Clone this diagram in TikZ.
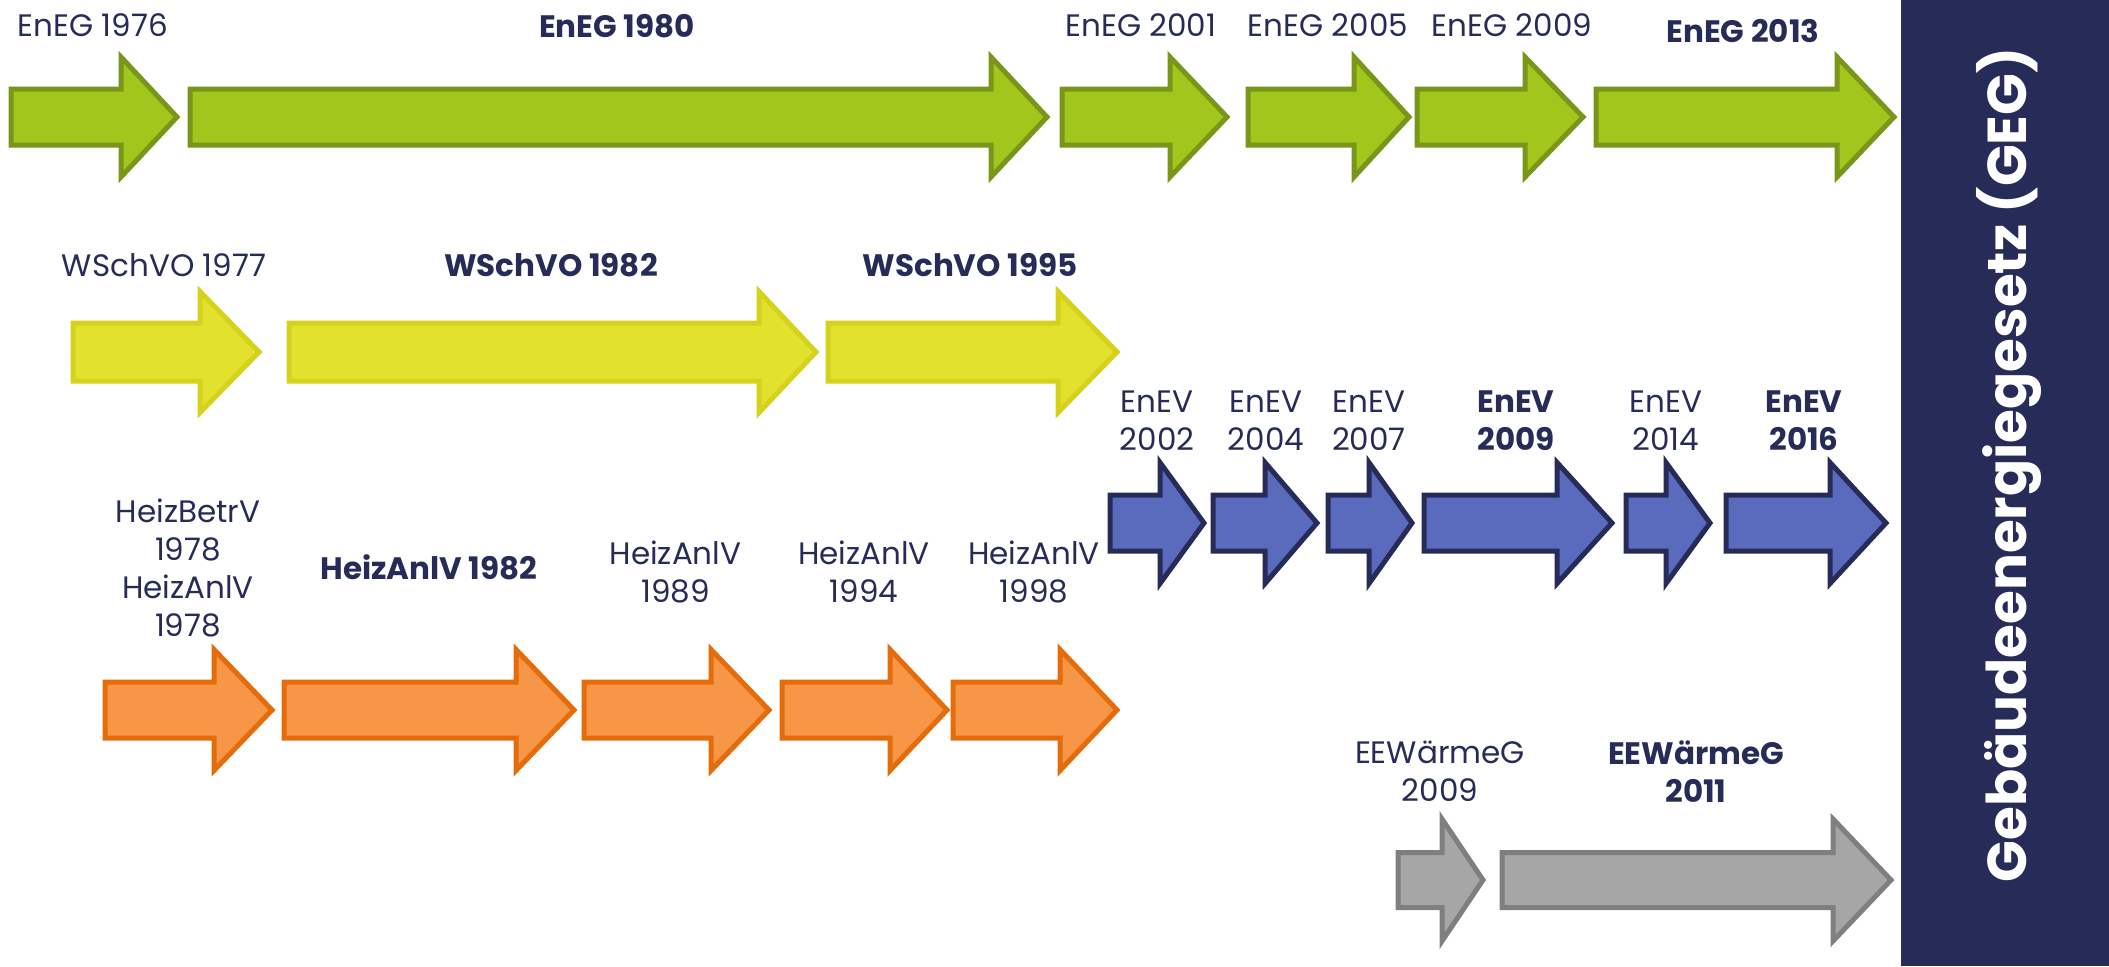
\documentclass[tikz,border=0pt]{standalone}
\usepackage{fontspec}
\setmainfont{Poppins}
\definecolor{navy}{HTML}{262B58}
\definecolor{grfill}{HTML}{A2C61C}
\definecolor{grline}{HTML}{7A961A}
\definecolor{yefill}{HTML}{E2E22E}
\definecolor{yeline}{HTML}{D4D21A}
\definecolor{blfill}{HTML}{5A6BBE}
\definecolor{blline}{HTML}{262B58}
\definecolor{orfill}{HTML}{F79646}
\definecolor{orline}{HTML}{E46C0A}
\definecolor{gyfill}{HTML}{A6A6A6}
\definecolor{gyline}{HTML}{7F7F7F}
\tikzset{
  arrbase/.style={line width=2.5pt, line join=miter},
  greenarr/.style={arrbase, fill=grfill, draw=grline},
  yellowarr/.style={arrbase, fill=yefill, draw=yeline},
  bluearr/.style={arrbase, fill=blfill, draw=blline},
  orangearr/.style={arrbase, fill=orfill, draw=orline},
  grayarr/.style={arrbase, fill=gyfill, draw=gyline},
  lbl/.style={text=navy, align=center, inner sep=0pt, font=\fontsize{15.5}{19}\selectfont},
  blbl/.style={lbl, font=\fontsize{15.5}{19}\selectfont\bfseries},
}
% style, left, base, tip, ycenter, bodyhalf, headhalf
\newcommand{\blockarrow}[7]{%
  \draw[#1] (#2,{#5-#6}) -- (#3,{#5-#6}) -- (#3,{#5-#7}) -- (#4,#5)
    -- (#3,{#5+#7}) -- (#3,{#5+#6}) -- (#2,{#5+#6}) -- cycle;}
\begin{document}
\begin{tikzpicture}[x=0.5pt,y=-0.5pt]
\useasboundingbox (0,0) rectangle (2109,966);
% right panel
\fill[navy] (1901,0) rectangle (2109,966);
\node[rotate=90, text=white, inner sep=0pt, font=\fontsize{27.4}{30}\selectfont\bfseries] (geg) at (2009,465) {Gebäudeenergiegesetz (GEG)};
% EnEG row
\blockarrow{greenarr}{11}{121}{177}{117}{28}{60}
\blockarrow{greenarr}{190}{991}{1047}{117}{28}{60}
\blockarrow{greenarr}{1062}{1170}{1227}{117}{28}{60}
\blockarrow{greenarr}{1248}{1354}{1409}{117}{28}{60}
\blockarrow{greenarr}{1417}{1525}{1583}{117}{28}{60}
\blockarrow{greenarr}{1596}{1837}{1894}{117}{28}{60}
\node[lbl] (eneg76) at (93,25) {EnEG 1976};
\node[blbl] (eneg80) at (617,26) {EnEG 1980};
\node[lbl] (eneg01) at (1141,25) {EnEG 2001};
\node[lbl] (eneg05) at (1328,25) {EnEG 2005};
\node[lbl] (eneg09) at (1512,25) {EnEG 2009};
\node[blbl] (eneg13) at (1743,31) {EnEG 2013};
% WSchVO row
\blockarrow{yellowarr}{73}{200}{259}{352}{29}{60.5}
\blockarrow{yellowarr}{289}{759}{816}{352}{29}{60.5}
\blockarrow{yellowarr}{828}{1058}{1117}{352}{29}{60.5}
\node[lbl] (w77) at (164,265) {WSchVO 1977};
\node[blbl] (w82) at (551,265) {WSchVO 1982};
\node[blbl] (w95) at (970,265) {WSchVO 1995};
% EnEV row
\blockarrow{bluearr}{1110}{1160}{1204}{523}{28}{60.5}
\blockarrow{bluearr}{1213}{1265}{1317}{523}{28}{60.5}
\blockarrow{bluearr}{1328}{1369}{1412}{523}{28}{60.5}
\blockarrow{bluearr}{1424}{1557}{1612}{523}{28}{60.5}
\blockarrow{bluearr}{1626}{1666}{1710}{523}{28}{60.5}
\blockarrow{bluearr}{1726}{1830}{1886}{523}{28}{60.5}
\node[lbl] (ev02) at (1157,421) {EnEV\\2002};
\node[lbl] (ev04) at (1266,421) {EnEV\\2004};
\node[lbl] (ev07) at (1369,421) {EnEV\\2007};
\node[blbl] (ev09) at (1516,421) {EnEV\\2009};
\node[lbl] (ev14) at (1666,421) {EnEV\\2014};
\node[blbl] (ev16) at (1804,421) {EnEV\\2016};
% Heiz row
\blockarrow{orangearr}{105}{214}{272}{710}{28}{60.5}
\blockarrow{orangearr}{284}{516}{574}{710}{28}{60.5}
\blockarrow{orangearr}{584}{711}{769}{710}{28}{60.5}
\blockarrow{orangearr}{782}{890}{947}{710}{28}{60.5}
\blockarrow{orangearr}{953}{1060}{1117}{710}{28}{60.5}
\node[lbl] (h78) at (188,567.5) {HeizBetrV\\1978\\HeizAnlV\\1978};
\node[blbl] (h82) at (429,567) {HeizAnlV 1982};
\node[lbl] (h89) at (675.5,572) {HeizAnlV\\1989};
\node[lbl] (h94) at (864,572) {HeizAnlV\\1994};
\node[lbl] (h98) at (1034,572) {HeizAnlV\\1998};
% EEWaermeG row
\blockarrow{grayarr}{1398}{1442}{1483}{880}{27.5}{61}
\blockarrow{grayarr}{1502}{1833}{1891}{880}{27.5}{61}
\node[lbl] (ee09) at (1440,771.5) {EEWärmeG\\2009};
\node[blbl] (ee11) at (1696,771.5) {EEWärmeG\\2011};
\end{tikzpicture}
\end{document}
